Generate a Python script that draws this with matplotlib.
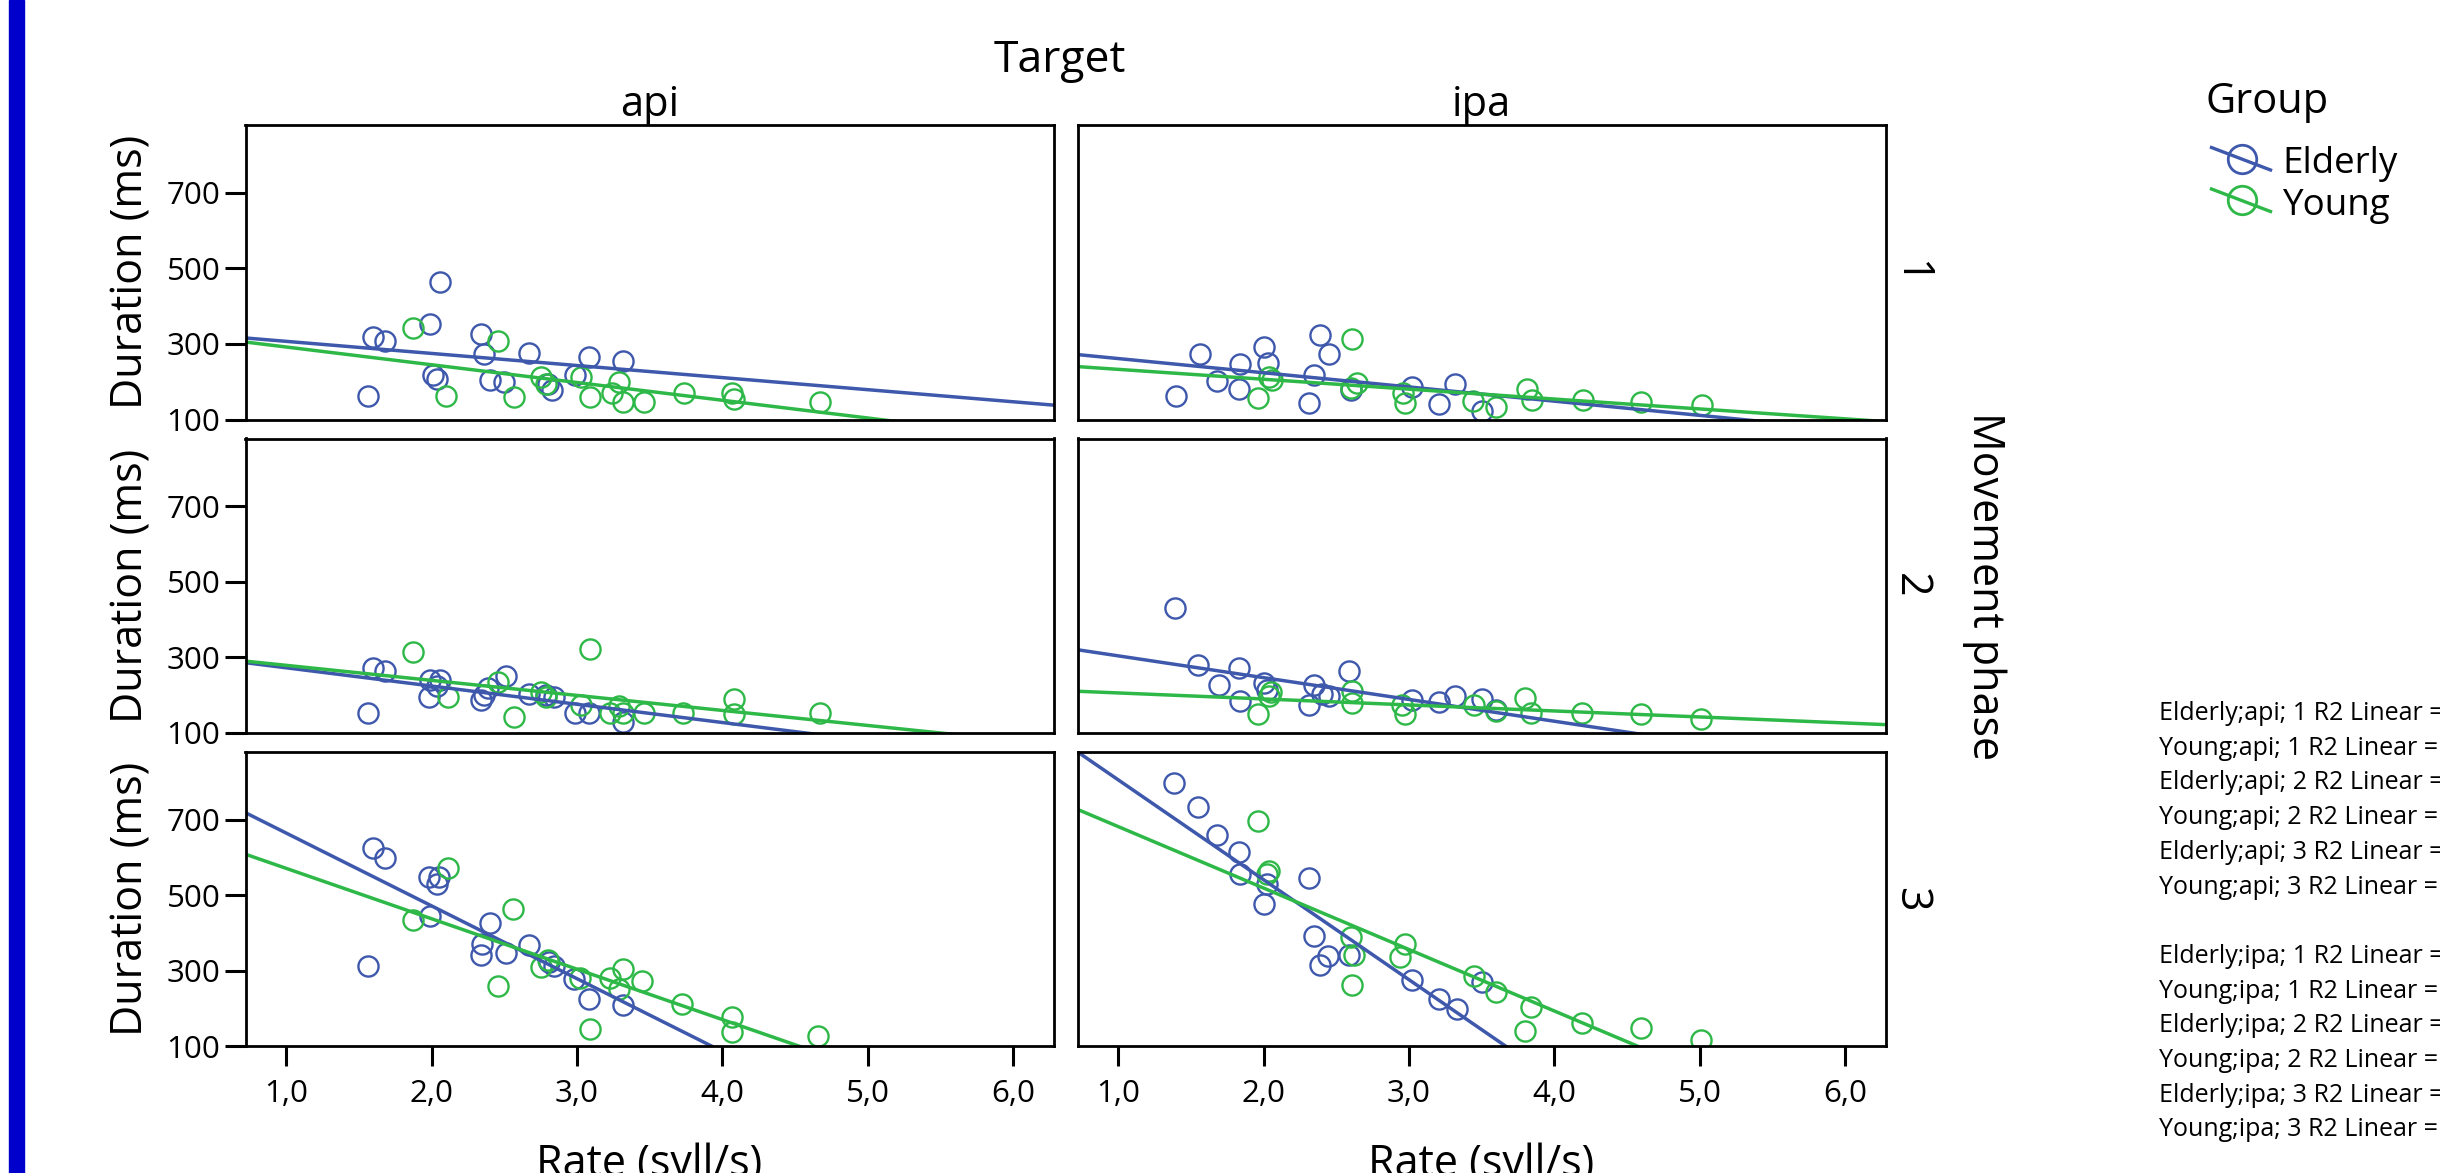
import matplotlib.pyplot as plt
from matplotlib.patches import Rectangle

plt.rcParams['font.family'] = ['Open Sans', 'DejaVu Sans']

# Data
targets = ['api', 'ipa']
phases = ['1', '2', '3']
groups = ['Elderly', 'Young']
group_colors = ['#3E58AC', '#2EB848']

xtick_vals = [1, 2, 3, 4, 5, 6]
xtick_labels = ['1,0', '2,0', '3,0', '4,0', '5,0', '6,0']
ytick_vals = [100, 300, 500, 700]
ytick_labels = ['100', '300', '500', '700']

# api, phase 1
rate_api1_elderly = [1.56, 1.60, 1.68, 1.99, 2.06, 2.01, 2.04, 2.34, 2.36, 2.40, 2.50, 2.67, 2.83, 2.99, 3.08, 3.32, 2.80]
dur_api1_elderly = [162, 318, 309, 353, 465, 219, 208, 327, 274, 204, 199, 277, 177, 217, 265, 256, 195]
rate_api1_young = [1.87, 2.10, 2.46, 2.57, 2.75, 2.79, 3.03, 3.09, 3.24, 3.29, 3.32, 3.46, 3.74, 4.07, 4.08, 4.67]
dur_api1_young = [343, 162, 307, 160, 212, 195, 212, 160, 170, 199, 147, 147, 170, 169, 155, 147]

# ipa, phase 1
rate_ipa1_elderly = [1.40, 1.56, 1.68, 1.84, 1.83, 2.00, 2.03, 2.31, 2.35, 2.39, 2.45, 2.60, 3.02, 3.21, 3.32, 3.50]
dur_ipa1_elderly = [162, 273, 203, 247, 181, 293, 250, 143, 218, 324, 273, 178, 185, 140, 193, 122]
rate_ipa1_young = [1.96, 2.04, 2.06, 2.61, 2.64, 2.60, 2.96, 2.97, 3.44, 3.60, 3.81, 3.85, 4.20, 4.60, 5.02]
dur_ipa1_young = [158, 213, 205, 313, 197, 183, 171, 144, 149, 132, 180, 152, 152, 147, 138]

# api, phase 2
rate_api2_elderly = [1.56, 1.60, 1.68, 1.99, 2.06, 2.04, 1.98, 2.34, 2.36, 2.39, 2.51, 2.67, 2.84, 2.99, 3.08, 3.32, 2.79]
dur_api2_elderly = [154, 273, 265, 240, 240, 225, 196, 187, 201, 218, 251, 203, 196, 154, 154, 130, 201]
rate_api2_young = [1.87, 2.11, 2.46, 2.57, 2.75, 2.79, 3.03, 3.09, 3.23, 3.29, 3.32, 3.46, 3.73, 4.08, 4.08, 4.67]
dur_api2_young = [315, 196, 236, 143, 209, 195, 174, 322, 154, 172, 152, 152, 154, 190, 150, 152]

# ipa, phase 2
rate_ipa2_elderly = [1.39, 1.55, 1.69, 1.83, 1.84, 2.00, 2.02, 2.31, 2.35, 2.40, 2.45, 2.59, 3.02, 3.21, 3.32, 3.50, 3.60]
dur_ipa2_elderly = [430, 279, 227, 273, 184, 233, 215, 175, 228, 202, 199, 264, 188, 181, 199, 190, 162]
rate_ipa2_young = [1.96, 2.05, 2.04, 2.61, 2.61, 2.95, 2.97, 3.45, 3.60, 3.80, 3.84, 4.19, 4.60, 5.01]
dur_ipa2_young = [151, 208, 197, 211, 180, 175, 149, 173, 159, 193, 153, 153, 151, 138]

# api, phase 3
rate_api3_elderly = [1.56, 1.60, 1.68, 1.98, 2.05, 2.04, 1.99, 2.40, 2.35, 2.34, 2.51, 2.67, 2.81, 2.84, 2.98, 3.08, 3.32]
dur_api3_elderly = [311, 625, 599, 549, 548, 530, 446, 426, 370, 341, 347, 367, 323, 313, 279, 226, 208]
rate_api3_young = [1.87, 2.11, 2.46, 2.56, 2.75, 2.80, 3.02, 3.09, 3.23, 3.32, 3.29, 3.45, 3.72, 4.07, 4.07, 4.66]
dur_api3_young = [433, 572, 259, 464, 310, 327, 281, 144, 281, 303, 252, 273, 211, 178, 138, 126]

# ipa, phase 3
rate_ipa3_elderly = [1.38, 1.55, 1.68, 1.83, 1.84, 2.02, 2.00, 2.31, 2.35, 2.44, 2.39, 2.59, 3.02, 3.21, 3.33, 3.50]
dur_ipa3_elderly = [799, 734, 659, 614, 556, 530, 477, 545, 391, 338, 314, 341, 276, 226, 197, 270]
rate_ipa3_young = [1.96, 2.04, 2.02, 2.60, 2.62, 2.61, 2.97, 2.94, 3.45, 3.60, 3.84, 3.80, 4.19, 4.60, 5.01]
dur_ipa3_young = [697, 563, 556, 389, 341, 261, 371, 336, 285, 244, 204, 141, 162, 149, 116]

# linear fit lines (intercept, slope)
fit_api1_elderly = (339, -32.0)
fit_api1_young = (339, -47.0)
fit_ipa1_elderly = (299, -37.6)
fit_ipa1_young = (259, -26.2)
fit_api2_elderly = (321, -48.3)
fit_api2_young = (319, -39.8)
fit_ipa2_elderly = (362, -57.7)
fit_ipa2_young = (222, -15.9)
fit_api3_elderly = (858, -193.1)
fit_api3_young = (705, -133.7)
fit_ipa3_elderly = (1071, -265.0)
fit_ipa3_young = (845, -163.0)

rates = {
    ('api', '1'): [rate_api1_elderly, rate_api1_young],
    ('ipa', '1'): [rate_ipa1_elderly, rate_ipa1_young],
    ('api', '2'): [rate_api2_elderly, rate_api2_young],
    ('ipa', '2'): [rate_ipa2_elderly, rate_ipa2_young],
    ('api', '3'): [rate_api3_elderly, rate_api3_young],
    ('ipa', '3'): [rate_ipa3_elderly, rate_ipa3_young],
}
durations = {
    ('api', '1'): [dur_api1_elderly, dur_api1_young],
    ('ipa', '1'): [dur_ipa1_elderly, dur_ipa1_young],
    ('api', '2'): [dur_api2_elderly, dur_api2_young],
    ('ipa', '2'): [dur_ipa2_elderly, dur_ipa2_young],
    ('api', '3'): [dur_api3_elderly, dur_api3_young],
    ('ipa', '3'): [dur_ipa3_elderly, dur_ipa3_young],
}
fits = {
    ('api', '1'): [fit_api1_elderly, fit_api1_young],
    ('ipa', '1'): [fit_ipa1_elderly, fit_ipa1_young],
    ('api', '2'): [fit_api2_elderly, fit_api2_young],
    ('ipa', '2'): [fit_ipa2_elderly, fit_ipa2_young],
    ('api', '3'): [fit_api3_elderly, fit_api3_young],
    ('ipa', '3'): [fit_ipa3_elderly, fit_ipa3_young],
}

# Layout (pixel boxes of the panels)
W, H = 2440, 1173
col_px = [(245.5, 1053.7), (1077.6, 1885.6)]
row_px = [(125, 419.5), (438.5, 733), (752, 1046)]
xlim = (0.72, 6.28)
ylim = (100, 880)

fig = plt.figure(figsize=(W / 100, H / 100), dpi=100)

# overlay in pixel coordinates for titles, legend and notes
ov = fig.add_axes([0, 0, 1, 1])
ov.set_xlim(0, W)
ov.set_ylim(H, 0)
ov.axis('off')
ov.patch.set_alpha(0)

for i, ph in enumerate(phases):
    y0, y1 = row_px[i]
    for j, tg in enumerate(targets):
        x0, x1 = col_px[j]
        ax = fig.add_axes([x0 / W, 1 - y1 / H, (x1 - x0) / W, (y1 - y0) / H])
        for k in range(len(groups)):
            ax.plot(rates[(tg, ph)][k], durations[(tg, ph)][k], 'o', ms=14.5,
                    mfc='none', mec=group_colors[k], mew=1.7)
        for k in range(len(groups)):
            b, m = fits[(tg, ph)][k]
            ax.plot(xlim, [b + m * xlim[0], b + m * xlim[1]],
                    color=group_colors[k], lw=2.5)
        ax.set_xlim(xlim)
        ax.set_ylim(ylim)
        for sp in ax.spines.values():
            sp.set_linewidth(2)
        if j == 0:
            ax.set_yticks(ytick_vals)
            ax.set_yticklabels(ytick_labels)
            ax.tick_params(axis='y', direction='out', length=15, width=2.2,
                           labelsize=22.5, pad=3)
        else:
            ax.set_yticks([])
        if i == 2:
            ax.set_xticks(xtick_vals)
            ax.set_xticklabels(xtick_labels)
            ax.tick_params(axis='x', direction='out', length=14.5, width=2.2,
                           labelsize=22.5, pad=9)
        else:
            ax.set_xticks([])

# left blue bar
ov.add_patch(Rectangle((9, 0), 15, H, color='#0000CC', clip_on=False))

# titles
ov.text(1059.5, 72, 'Target', fontsize=32, ha='center', va='baseline')
for j, tg in enumerate(targets):
    cx = (col_px[j][0] + col_px[j][1]) / 2
    ov.text(cx, 115.5, tg, fontsize=30, ha='center', va='baseline')
    ov.text(cx, 1176, 'Rate (syll/s)', fontsize=31, ha='center',
            va='baseline', clip_on=False)
for i, ph in enumerate(phases):
    cy = (row_px[i][0] + row_px[i][1]) / 2
    ov.text(131, cy, 'Duration (ms)', fontsize=31, rotation=90,
            ha='center', va='center')
    ov.text(1910, cy, ph, fontsize=31, rotation=270, ha='center', va='center')
ov.text(1984, 586, 'Movement phase', fontsize=31, rotation=270,
        ha='center', va='center')

# legend
ov.text(2205, 113, 'Group', fontsize=30, ha='left', va='baseline')
for k, g in enumerate(groups):
    cy = 158.5 + 41.5 * k
    ov.plot([2211.5, 2270.5], [cy - 11, cy + 11.5], color=group_colors[k], lw=2.4)
    ov.plot([2241.5], [cy], 'o', ms=20.5, mfc='none', mec=group_colors[k], mew=2)
    ov.text(2282, cy + 15, g, fontsize=26.5, ha='left', va='baseline')

# R2 notes (cut by the right edge as in the original)
base = 720
for j, tg in enumerate(targets):
    for i, ph in enumerate(phases):
        for k, g in enumerate(groups):
            n = j * 7 + i * 2 + k
            ov.text(2159, base + 34.7 * n, f'{g};{tg}; {ph} R2 Linear =',
                    fontsize=18, ha='left', va='baseline', clip_on=False)

plt.savefig('out.png', dpi=100)
